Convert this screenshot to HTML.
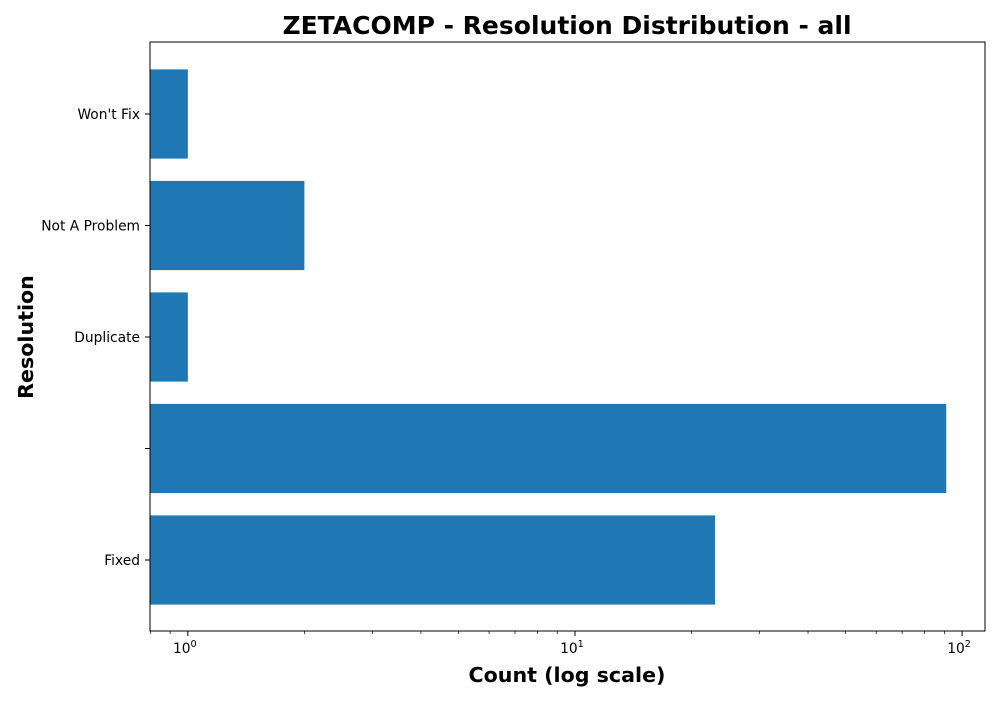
<!DOCTYPE html>
<html><head><meta charset="utf-8"><style>
body{margin:0;background:#fff;font-family:"DejaVu Sans","Liberation Sans",sans-serif}
</style></head><body>
<svg id="chart" width="1000" height="700" xmlns="http://www.w3.org/2000/svg" font-family="DejaVu Sans, Liberation Sans, sans-serif">
<text x="567" y="34" text-anchor="middle" font-size="25" font-weight="bold">ZETACOMP - Resolution Distribution - all</text>
<text x="567" y="682" text-anchor="middle" font-size="20.6" font-weight="bold">Count (log scale)</text>
<text transform="translate(33,337) rotate(-90)" text-anchor="middle" font-size="20.6" font-weight="bold">Resolution</text>
<g id="bars"></g><g id="ticks"></g>
<rect x="150" y="42" width="835" height="589" fill="none" stroke="#000" stroke-width="1"/>
</svg>
<script>
const categories = ["Fixed", "", "Duplicate", "Not A Problem", "Won't Fix"];
const counts = [23, 91, 1, 2, 1];
const xTickValues = [1, 10, 100];
const xTickExps = ["0", "1", "2"];
const NS = "http://www.w3.org/2000/svg";
const L = 150, R = 985, T = 42, B = 631;
const lmin = Math.log10(0.7985), lmax = Math.log10(114.6);
function xs(v){ return L + (Math.log10(v) - lmin) / (lmax - lmin) * (R - L); }
const band = 111.5;
function yc(i){ return 560 - i * band; }
function mk(tag, attrs, parent){ const e = document.createElementNS(NS, tag); for (const k in attrs) e.setAttribute(k, attrs[k]); parent.appendChild(e); return e; }
const bars = document.getElementById('bars'), ticks = document.getElementById('ticks');
categories.forEach((c, i) => {
  const y = yc(i), h = band * 0.8;
  const r = mk('rect', {x: L, y: y - h/2, width: Math.max(0, xs(counts[i]) - L), height: h, fill: '#1f77b4'}, bars);
  
  
  mk('line', {x1: L - 5, x2: L, y1: y, y2: y, stroke: '#000'}, ticks);
  const t = mk('text', {x: L - 10, y: y + 5, 'text-anchor': 'end', 'font-size': 13.8}, ticks);
  t.textContent = c;
  
  
});
xTickValues.forEach((v, i) => {
  const x = xs(v);
  mk('line', {x1: x, x2: x, y1: B, y2: B + 5, stroke: '#000'}, ticks);
  const t = mk('text', {x: x - 3, y: B + 22, 'text-anchor': 'middle', 'font-size': 13.8}, ticks);
  t.textContent = '10';
  
  
  const s = mk('tspan', {dy: -6, 'font-size': 9.7}, t);
  s.textContent = xTickExps[i];
});
for (let d = -1; d <= 2; d++) for (let m = 2; m <= 9; m++) {
  const v = m * Math.pow(10, d);
  if (v < 0.7985 || v > 114.6) continue;
  const x = xs(v);
  mk('line', {x1: x, x2: x, y1: B, y2: B + 3, stroke: '#000', 'stroke-width': 0.7}, ticks);
}
</script>
</body></html>
